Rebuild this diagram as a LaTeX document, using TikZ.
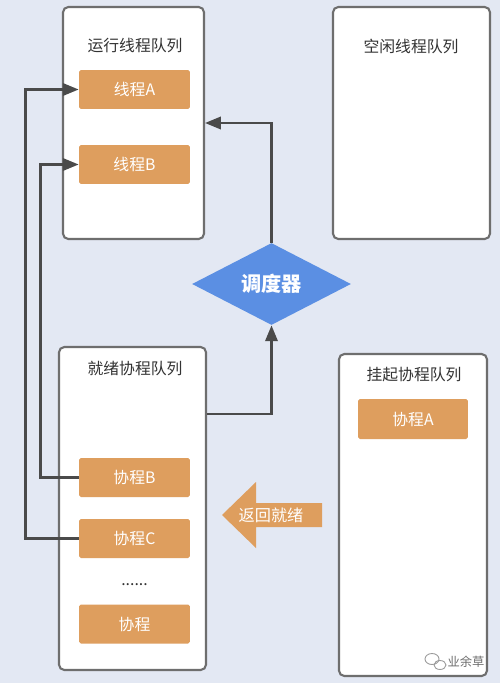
\documentclass[tikz,border=0pt]{standalone}
\usepackage{fontspec}
\setmainfont{Noto Sans CJK SC}
\usetikzlibrary{arrows.meta,shapes.geometric}
\definecolor{bgblue}{HTML}{E3E8F3}
\definecolor{boxgray}{HTML}{6E6E6E}
\definecolor{linegray}{HTML}{4A4A4A}
\definecolor{titlegray}{HTML}{333333}
\definecolor{itemorange}{HTML}{DE9E5E}
\definecolor{schedblue}{HTML}{5B8FE3}

\begin{document}
\begin{tikzpicture}[x=0.02cm,y=-0.02cm,
	queue/.style={draw=boxgray,line width=1.2pt,fill=white,rounded corners=3pt,inner sep=0pt},
	qtitle/.style={text=titlegray,font=\fontsize{9}{11}\selectfont},
	item/.style={fill=itemorange,text=white,rounded corners=1pt,minimum width=2.22cm,minimum height=0.78cm,inner sep=0pt,font=\fontsize{9}{11}\selectfont},
	link/.style={draw=linegray,line width=1.4pt},
	tip/.style={-{Triangle[length=9pt,width=7pt]}}]
			\useasboundingbox (0,0) rectangle (500,683);
			\fill[bgblue] (0,0) rectangle (500,683);
			% thread queues
			\node[queue,minimum width=2.82cm,minimum height=4.64cm] (run) at (133.5,123) {};
			\node[qtitle] (runt) at (135,46) {运行线程队列};
			\node[item] (tA) at (134.5,89.5) {线程A};
			\node[item] (tB) at (134.5,164.5) {线程B};
			\node[queue,minimum width=3.14cm,minimum height=4.64cm] (idle) at (411.5,123) {};
			\node[qtitle] (idlet) at (411,46) {空闲线程队列};
			% scheduler
			\node[diamond,fill=schedblue,text=white,inner sep=0pt,aspect=1.94,minimum width=3.18cm,minimum height=1.64cm,font=\bfseries\fontsize{11.5}{13}\selectfont] (sched) at (271.5,284) {调度器};
			% coroutine queues
			\node[queue,minimum width=2.94cm,minimum height=6.46cm] (ready) at (132.5,508.5) {};
			\node[qtitle] (readyt) at (135,369) {就绪协程队列};
			\node[item] (cB) at (134.5,477.5) {协程B};
			\node[item] (cC) at (134.5,538.5) {协程C};
			\node[qtitle] (dots) at (134.5,585) {......};
			\node[item] (cN) at (134.5,624) {协程};
			\node[queue,minimum width=2.96cm,minimum height=6.44cm] (hang) at (413,515) {};
			\node[qtitle] (hangt) at (414,375) {挂起协程队列};
			\node[item,minimum width=2.2cm,minimum height=0.8cm] (cA) at (413,419) {协程A};
			% back arrow
			\fill[itemorange] (322,503) -- (256,503) -- (256,482) -- (222,515) -- (256,548) -- (256,527) -- (322,527) -- cycle;
			\node[text=white,font=\fontsize{9.2}{11}\selectfont] (back) at (271,515) {返回就绪};
			% connectors
			\draw[link,tip] (cC.west) -- ++(-53,0) |- (tA.west);
			\draw[link,tip] (cB.west) -- ++(-38,0) |- (tB.west);
			\draw[link,tip] (ready.east |- 0,414) -| (sched.south);
			\draw[link,tip] (sched.north) |- (run.east);
			% mark
			\draw[boxgray!70,line width=0.5pt] (432,659) ellipse (7 and 5.5);
			\draw[boxgray!70,line width=0.5pt] (440,665) ellipse (6 and 4.5);
			\node[text=boxgray,font=\fontsize{7}{8}\selectfont] (mark) at (466,662) {业余草};
		\end{tikzpicture}
\end{document}
